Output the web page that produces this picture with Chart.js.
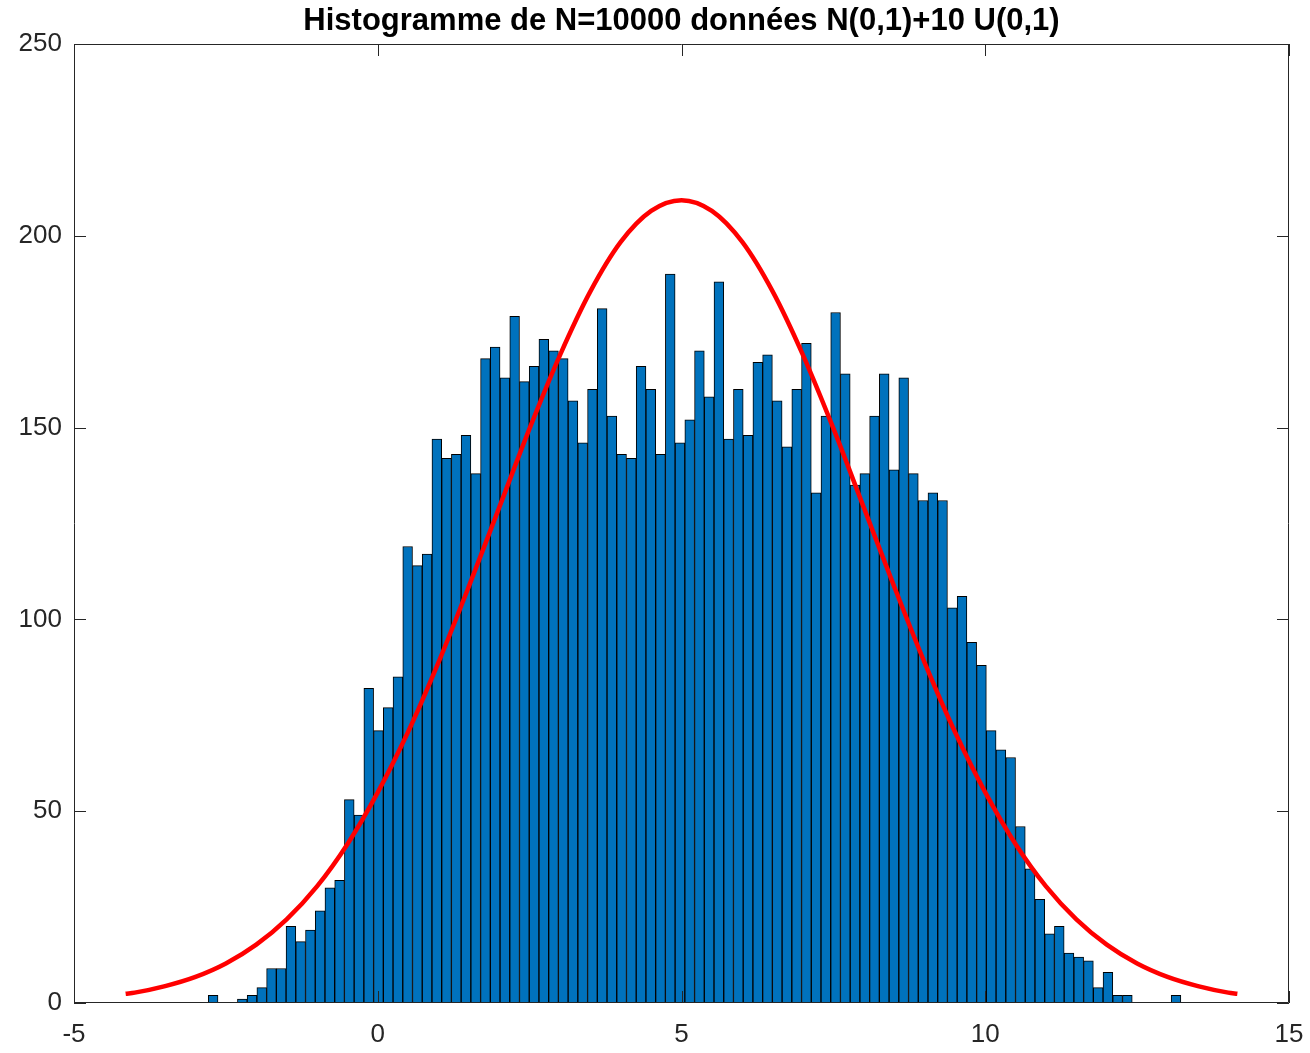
<!DOCTYPE html>
<html>
<head>
    <title>Histogramme</title>
    <script src="https://cdn.jsdelivr.net/npm/chart.js"></script>
    <style>
        body { margin: 0; background: white; }
        canvas { display: block; }
    </style>
</head>
<body>
    <canvas id="histChart" width="1310" height="1053"></canvas>
    <script>
        // histogram: 100 bins, first left edge and bin width
        const binStart = -2.79;
        const binWidth = 0.1601;
        const counts = [
            2, 0, 0, 1, 2, 4, 9, 9, 20, 16,
            19, 24, 30, 32, 53, 49, 82, 71, 77, 85,
            119, 114, 117, 147, 142, 143, 148, 138, 168, 171,
            163, 179, 162, 166, 173, 170, 168, 157, 146, 160,
            181, 153, 143, 142, 166, 160, 143, 190, 146, 152,
            170, 158, 188, 147, 160, 148, 167, 169, 157, 145,
            160, 172, 133, 153, 180, 164, 135, 138, 153, 164,
            139, 163, 138, 131, 133, 131, 103, 106, 94, 88,
            71, 66, 64, 46, 35, 27, 18, 20, 13, 12,
            11, 4, 8, 2, 2, 0, 0, 0, 0, 2
        ];

        // red curve
        const curveX = [-4.15, -4, -3.5, -3, -2.5, -2, -1.5, -1, -0.5, 0, 0.5, 1, 1.5, 2, 2.5, 3, 3.5, 4, 4.5,
            5, 5.5, 6, 6.5, 7, 7.5, 8, 8.5, 9, 9.5, 10, 10.5, 11, 11.5, 12, 12.5, 13, 13.5, 14, 14.15];
        const curveY = [2.4, 2.7, 4.4, 6.8, 10.3, 15.2, 21.8, 30.4, 41.4, 54.9, 70.7, 88.8, 108.6, 129.2, 149.8, 168.9, 185.5, 198.4, 206.5,
            209.3, 206.5, 198.4, 185.5, 168.9, 149.8, 129.2, 108.6, 88.8, 70.7, 54.9, 41.4, 30.4, 21.8, 15.2, 10.3, 6.8, 4.4, 2.7, 2.4];

        const xTicks = [-5, 0, 5, 10, 15];
        const yTicks = [0, 50, 100, 150, 200, 250];

        const titleText = 'Histogramme de N=10000 données N(0,1)+10 U(0,1)';
        const axisColor = '#262626';
        const fontFamily = "'Liberation Sans', Arial, Helvetica, sans-serif";

        const barData = counts.map((c, i) => ({ x: binStart + (i + 0.5) * binWidth, y: c }));
        const lineData = curveX.map((x, i) => ({ x: x, y: curveY[i] }));

        // MATLAB style box with inward ticks on all four sides
        const boxPlugin = {
            id: 'matlabBox',
            afterDatasetsDraw(chart) {
                const { ctx, chartArea: a, scales } = chart;
                const len = 12;
                ctx.save();
                ctx.strokeStyle = axisColor;
                ctx.lineWidth = 1;
                ctx.beginPath();
                ctx.rect(a.left + 0.5, a.top + 0.5, a.right - a.left - 1, a.bottom - a.top - 1);
                xTicks.forEach(v => {
                    const px = Math.round(scales.x.getPixelForValue(v)) + 0.5;
                    ctx.moveTo(px, a.bottom); ctx.lineTo(px, a.bottom - len);
                    ctx.moveTo(px, a.top); ctx.lineTo(px, a.top + len);
                });
                yTicks.forEach(v => {
                    const py = Math.round(scales.y.getPixelForValue(v)) + 0.5;
                    ctx.moveTo(a.left, py); ctx.lineTo(a.left + len, py);
                    ctx.moveTo(a.right, py); ctx.lineTo(a.right - len, py);
                });
                ctx.stroke();
                ctx.restore();
            }
        };

        new Chart(document.getElementById('histChart'), {
            type: 'bar',
            data: {
                datasets: [
                    {
                        type: 'line',
                        data: lineData,
                        borderColor: '#FF0000',
                        borderWidth: 4.5,
                        pointRadius: 0,
                        cubicInterpolationMode: 'monotone',
                        fill: false,
                        order: 0
                    },
                    {
                        type: 'bar',
                        data: barData,
                        backgroundColor: '#0072BD',
                        borderColor: '#000000',
                        borderWidth: 1,
                        borderSkipped: false,
                        barPercentage: 1,
                        categoryPercentage: 1,
                        order: 1
                    }
                ]
            },
            options: {
                responsive: false,
                animation: false,
                layout: { padding: { left: 0, right: 21, top: 0, bottom: 0 } },
                plugins: {
                    legend: { display: false },
                    tooltip: { enabled: false },
                    title: {
                        display: true,
                        text: titleText,
                        color: '#000000',
                        fullSize: false,
                        font: { family: fontFamily, size: 31, weight: 'bold', lineHeight: 1.2 },
                        padding: { top: 3, bottom: 3.8 }
                    }
                },
                scales: {
                    x: {
                        type: 'linear',
                        min: -5,
                        max: 15,
                        offset: false,
                        grid: { display: false, drawTicks: false },
                        border: { display: false },
                        afterBuildTicks: s => { s.ticks = xTicks.map(v => ({ value: v })); },
                        afterFit: s => { s.height = 50; s.paddingLeft = 0; s.paddingRight = 0; },
                        ticks: {
                            color: axisColor,
                            padding: 16,
                            maxRotation: 0,
                            font: { family: fontFamily, size: 26 }
                        }
                    },
                    y: {
                        min: 0,
                        max: 250,
                        grid: { display: false, drawTicks: false },
                        border: { display: false },
                        afterBuildTicks: s => { s.ticks = yTicks.map(v => ({ value: v })); },
                        afterFit: s => { s.width = 74; },
                        ticks: {
                            color: axisColor,
                            padding: 12,
                            font: { family: fontFamily, size: 26 }
                        }
                    }
                }
            },
            plugins: [boxPlugin]
        });
    </script>
</body>
</html>
